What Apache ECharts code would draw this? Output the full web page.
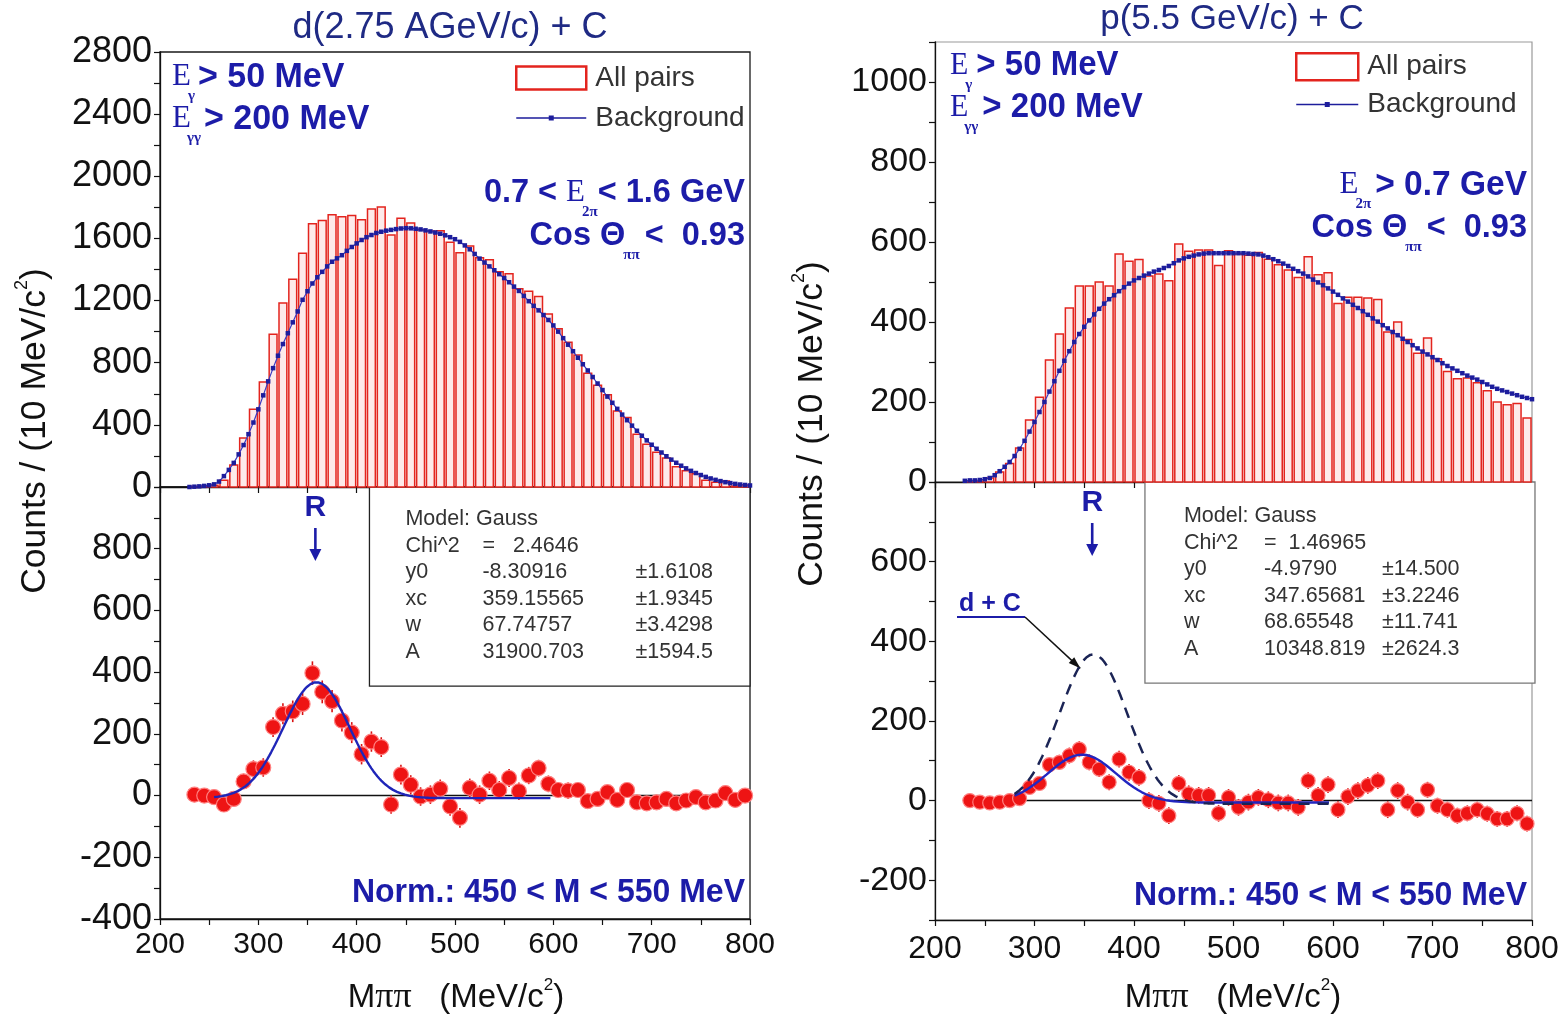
<!DOCTYPE html>
<html>
<head>
<meta charset="utf-8">
<title>M(pi pi) spectra: d + C and p + C</title>
<script src="https://cdn.jsdelivr.net/npm/echarts@6.0.0/dist/echarts.min.js"></script>
<style>
  html, body { margin: 0; padding: 0; background: #ffffff; }
  #chart { width: 1562px; height: 1017px; }
</style>
</head>
<body>
<div id="chart"></div>
<script>
// ---------------- data ----------------
// 10 MeV/c^2 bin centres shared by both histograms and both difference spectra
const massBins = [235, 245, 255, 265, 275, 285, 295, 305, 315, 325,
                  335, 345, 355, 365, 375, 385, 395, 405, 415, 425,
                  435, 445, 455, 465, 475, 485, 495, 505, 515, 525,
                  535, 545, 555, 565, 575, 585, 595, 605, 615, 625,
                  635, 645, 655, 665, 675, 685, 695, 705, 715, 725,
                  735, 745, 755, 765, 775, 785, 795];
const binWidth = 10;

// background (mixed-event) curve sampling points
const bgMass = [230, 235, 240, 245, 250, 255, 260, 265, 270, 275,
                280, 285, 290, 295, 300, 305, 310, 315, 320, 325,
                330, 335, 340, 345, 350, 355, 360, 365, 370, 375,
                380, 385, 390, 395, 400, 405, 410, 415, 420, 425,
                430, 435, 440, 445, 450, 455, 460, 465, 470, 475,
                480, 485, 490, 495, 500, 505, 510, 515, 520, 525,
                530, 535, 540, 545, 550, 555, 560, 565, 570, 575,
                580, 585, 590, 595, 600, 605, 610, 615, 620, 625,
                630, 635, 640, 645, 650, 655, 660, 665, 670, 675,
                680, 685, 690, 695, 700, 705, 710, 715, 720, 725,
                730, 735, 740, 745, 750, 755, 760, 765, 770, 775,
                780, 785, 790, 795, 800];

// d(2.75 AGeV/c) + C
const dcAllPairs = [4, 6, 12, 43, 142, 316, 500, 676, 984, 1185,
                    1337, 1504, 1695, 1715, 1753, 1740, 1747, 1720, 1790, 1803,
                    1622, 1730, 1700, 1655, 1648, 1650, 1575, 1508, 1552, 1475,
                    1462, 1385, 1372, 1276, 1260, 1226, 1113, 1018, 932, 850,
                    732, 655, 593, 489, 448, 340, 275, 224, 187, 131,
                    104, 85, 43, 30, 39, 6, 13];
const dcBackground = [0, 2, 4, 7, 11, 17, 35, 70, 110, 155,
                      210, 270, 340, 415, 500, 590, 680, 765, 845, 920,
                      990, 1060, 1130, 1205, 1260, 1310, 1350, 1385, 1420, 1450,
                      1472, 1492, 1520, 1545, 1568, 1590, 1608, 1622, 1635, 1643,
                      1650, 1655, 1660, 1664, 1666, 1665, 1662, 1658, 1652, 1645,
                      1638, 1630, 1620, 1608, 1595, 1578, 1555, 1530, 1500, 1470,
                      1445, 1420, 1395, 1370, 1345, 1318, 1290, 1262, 1230, 1196,
                      1166, 1137, 1107, 1075, 1040, 1000, 958, 916, 874, 832,
                      790, 750, 708, 666, 624, 582, 542, 503, 466, 430,
                      395, 362, 330, 300, 272, 246, 222, 198, 176, 156,
                      137, 120, 104, 90, 77, 65, 55, 46, 38, 31,
                      25, 20, 16, 13, 10];
const dcDiff = [3, 0, -5, -29, -11, 46, 86, 91, 222, 265,
                273, 297, 397, 336, 306, 243, 204, 134, 175, 157,
                -29, 68, 35, -3, 3, 22, -35, -72, 25, 3,
                48, 18, 57, 14, 65, 89, 38, 18, 16, 18,
                -18, -11, 11, -14, 18, -22, -25, -22, -11, -25,
                -16, -5, -22, -16, 8, -14, 0];
const dcDiffErr = [20, 20, 20, 22, 22, 25, 28, 30, 32, 34,
                   35, 36, 38, 37, 36, 35, 34, 33, 33, 32,
                   30, 32, 31, 30, 30, 30, 30, 32, 30, 30,
                   30, 29, 29, 28, 28, 27, 27, 26, 26, 25,
                   25, 24, 24, 23, 23, 22, 22, 21, 21, 20,
                   20, 19, 19, 18, 18, 17, 17];

// p(5.5 GeV/c) + C
const pcAllPairs = [0, 2, 10, 25, 46, 85, 155, 212, 305, 370,
                    435, 490, 490, 500, 490, 570, 552, 556, 515, 520,
                    503, 595, 577, 580, 580, 541, 578, 570, 567, 574,
                    557, 543, 530, 511, 563, 518, 523, 446, 462, 462,
                    460, 456, 375, 400, 356, 322, 360, 308, 276, 258,
                    260, 248, 228, 200, 193, 196, 160];
const pcBackground = [3, 4, 4, 5, 7, 10, 17, 27, 38, 50,
                      65, 83, 103, 126, 150, 175, 200, 226, 252, 278,
                      303, 327, 350, 370, 388, 404, 419, 433, 446, 457,
                      467, 477, 487, 496, 504, 510, 516, 521, 526, 530,
                      535, 540, 547, 554, 559, 563, 566, 569, 571, 572,
                      572, 572, 572, 572, 572, 572, 572, 571, 570, 569,
                      566, 562, 557, 552, 546, 540, 533, 527, 521, 514,
                      506, 499, 492, 484, 476, 468, 459, 451, 443, 435,
                      427, 418, 409, 401, 392, 384, 375, 367, 358, 350,
                      342, 334, 326, 319, 312, 305, 297, 290, 284, 278,
                      272, 266, 261, 256, 250, 244, 238, 233, 229, 225,
                      221, 217, 213, 210, 207];
const pcDiff = [0, -4, -6, -4, 0, 5, 33, 43, 90, 96,
                113, 129, 96, 79, 46, 104, 71, 58, 0, -7,
                -38, 43, 17, 13, 13, -32, 8, -17, -4, 8,
                2, -6, -6, -17, 50, 13, 40, -23, 10, 25,
                38, 50, -23, 25, -4, -23, 27, -13, -23, -38,
                -32, -23, -33, -46, -46, -32, -58];
const pcDiffErr = [12, 12, 12, 13, 14, 15, 16, 17, 18, 19,
                   20, 20, 20, 20, 20, 21, 21, 21, 21, 21,
                   21, 21, 21, 21, 21, 21, 21, 21, 21, 21,
                   21, 21, 21, 21, 21, 21, 21, 21, 21, 21,
                   21, 21, 21, 21, 21, 20, 20, 20, 20, 20,
                   20, 20, 20, 20, 20, 20, 20];

// Gauss fit results (Origin "Gauss" model) as printed in the fit boxes
const dcFit = { y0: -8.30916, xc: 359.15565, w: 67.74757, A: 31900.703 };
const pcFit = { y0: -4.9790, xc: 347.65681, w: 68.65548, A: 10348.819 };
const dcFitRange = [255, 598];
const pcFitRange = [280, 596];
const zeroLineL = [232, 800];
const zeroLineR = [234, 800];
const resonanceMass = 358;

const dcFitRows = [
  ['Model: Gauss', '', ''],
  ['Chi^2', '=   2.4646', ''],
  ['y0', '-8.30916', '\u00b11.6108'],
  ['xc', '359.15565', '\u00b11.9345'],
  ['w', '67.74757', '\u00b13.4298'],
  ['A', '31900.703', '\u00b11594.5']
];
const pcFitRows = [
  ['Model: Gauss', '', ''],
  ['Chi^2', '=  1.46965', ''],
  ['y0', '-4.9790', '\u00b114.500'],
  ['xc', '347.65681', '\u00b13.2246'],
  ['w', '68.65548', '\u00b111.741'],
  ['A', '10348.819', '\u00b12624.3']
];

// ---------------- styling ----------------
const SANS = "'Liberation Sans', Arial, sans-serif";
const SERIF = "'Liberation Serif', 'Times New Roman', serif";
const BLUE = '#1c1ca8';
const TITLE_BLUE = '#1f2a84';
const HIST_RED = '#e3241e';
const POINT_RED = '#ee1414';
const BG_BLUE = '#1d1d9c';

function pairs(xs, ys) { return xs.map((x, i) => [x, ys[i]]); }
function triples(xs, ys, es) { return xs.map((x, i) => [x, ys[i], es[i]]); }

function gaussModel(p, range, step) {
  const out = [];
  const amp = p.A / (p.w * Math.sqrt(Math.PI / 2));
  for (let x = range[0]; x <= range[1]; x += step) {
    out.push([x, p.y0 + amp * Math.exp(-2 * Math.pow((x - p.xc) / p.w, 2))]);
  }
  return out;
}

function histRender(params, api) {
  const x = api.value(0), y = api.value(1);
  const top = api.coord([x - binWidth / 2, y]);
  const base = api.coord([x + binWidth / 2, 0]);
  return {
    type: 'rect',
    shape: { x: top[0] + 1, y: top[1], width: base[0] - top[0] - 2, height: base[1] - top[1] },
    style: { fill: '#fdeaea', stroke: HIST_RED, lineWidth: 1.5 }
  };
}

function pointRender(radius) {
  return function (params, api) {
    const x = api.value(0), y = api.value(1), e = api.value(2);
    const c = api.coord([x, y]);
    const lo = api.coord([x, y - e]);
    const hi = api.coord([x, y + e]);
    return {
      type: 'group',
      children: [
        { type: 'line', shape: { x1: c[0], y1: lo[1], x2: c[0], y2: hi[1] },
          style: { stroke: '#d81010', lineWidth: 1.6 } },
        { type: 'circle', shape: { cx: c[0], cy: c[1], r: radius },
          style: { fill: POINT_RED, stroke: '#ff8080', lineWidth: 1.2 } }
      ]
    };
  };
}

function xAxisCfg(gi, showLabels, fontSize, margin) {
  return {
    type: 'value', gridIndex: gi, min: 200, max: 800, interval: 50,
    axisLine: { onZero: false, lineStyle: { color: '#111', width: 1.3 } },
    axisTick: { show: true, length: 6, lineStyle: { color: '#111', width: 1.2 } },
    axisLabel: { show: showLabels, fontSize: fontSize, color: '#111', fontFamily: SANS, margin: margin,
                 formatter: v => (v % 100 === 0 ? String(v) : '') },
    splitLine: { show: false }
  };
}

function yAxisCfg(gi, min, max, step, labelStep, labelMax, fontSize) {
  return {
    type: 'value', gridIndex: gi, min: min, max: max, interval: step,
    axisLine: { onZero: false, lineStyle: { color: '#111', width: 1.3 } },
    axisTick: { show: true, length: 6, lineStyle: { color: '#111', width: 1.2 } },
    axisLabel: { fontSize: fontSize, color: '#111', fontFamily: SANS, margin: 8,
                 formatter: v => ((v % labelStep === 0 && v <= labelMax) ? String(v) : '') },
    splitLine: { show: false }
  };
}

function lineIconPath(w, h) {
  const m = h / 2;
  return 'path://M0,0L0.01,0L0.01,0.01Z' +
    'M0,' + h + 'L0.01,' + h + 'L0.01,' + (h - 0.01) + 'Z' +
    'M0,' + (m - 0.7) + 'L' + w + ',' + (m - 0.7) + 'L' + w + ',' + (m + 0.7) + 'L0,' + (m + 0.7) + 'Z' +
    'M' + (w / 2 - 2.5) + ',' + (m - 2.5) + 'L' + (w / 2 + 2.5) + ',' + (m - 2.5) + 'L' +
    (w / 2 + 2.5) + ',' + (m + 2.5) + 'L' + (w / 2 - 2.5) + ',' + (m + 2.5) + 'Z';
}

function legendCfg(left, top, iw, ih, gap) {
  return {
    orient: 'vertical', left: left, top: top, itemWidth: iw, itemHeight: ih, itemGap: gap,
    padding: 0, selectedMode: false,
    textStyle: { fontSize: 28, color: '#333', fontFamily: SANS, padding: [0, 0, 0, 4] },
    data: [
      { name: 'All pairs', icon: 'rect',
        itemStyle: { color: '#ffffff', borderColor: HIST_RED, borderWidth: 2.5 } },
      { name: 'Background', icon: lineIconPath(iw, ih),
        itemStyle: { color: BG_BLUE, borderWidth: 0 } }
    ]
  };
}

const option = {
  animation: false,
  backgroundColor: '#ffffff',
  grid: [
    { left: 160, top: 52, width: 590, height: 435, show: true, borderColor: '#1a1a1a', borderWidth: 1.3 },
    { left: 160, top: 487, width: 590, height: 432, show: true, borderColor: '#1a1a1a', borderWidth: 1.3 },
    { left: 935, top: 42, width: 597, height: 440, show: true, borderColor: '#9a9a9a', borderWidth: 1.2 },
    { left: 935, top: 482, width: 597, height: 438, show: true, borderColor: '#9a9a9a', borderWidth: 1.2 }
  ],
  xAxis: [
    xAxisCfg(0, false, 30, 10),
    xAxisCfg(1, true, 30, 11),
    xAxisCfg(2, false, 32, 10),
    xAxisCfg(3, true, 32, 13)
  ],
  yAxis: [
    yAxisCfg(0, 0, 2800, 200, 400, 2800, 36),
    yAxisCfg(1, -400, 1000, 100, 200, 800, 36),
    yAxisCfg(2, 0, 1100, 100, 200, 1000, 34),
    yAxisCfg(3, -300, 800, 100, 200, 600, 34)
  ],
  legend: [
    legendCfg(515, 64, 70, 23, 12),
    legendCfg(1295, 52, 62, 27, 9)
  ],
  series: [
    // d + C: all pairs and background
    { name: 'All pairs', type: 'custom', xAxisIndex: 0, yAxisIndex: 0, z: 2,
      encode: { x: 0, y: 1 }, data: pairs(massBins, dcAllPairs), renderItem: histRender },
    { name: 'Background', type: 'line', xAxisIndex: 0, yAxisIndex: 0, z: 3,
      data: pairs(bgMass, dcBackground), symbol: 'rect', symbolSize: 4.5, showSymbol: true,
      lineStyle: { color: '#3a3ac4', width: 1.2 }, itemStyle: { color: BG_BLUE } },
    // d + C: difference spectrum with Gauss fit
    { name: 'zero d', type: 'line', xAxisIndex: 1, yAxisIndex: 1, z: 2, showSymbol: false,
      data: [[zeroLineL[0], 0], [zeroLineL[1], 0]], lineStyle: { color: '#111', width: 1.5 } },
    { name: 'd + C difference', type: 'custom', xAxisIndex: 1, yAxisIndex: 1, z: 3,
      encode: { x: 0, y: 1 }, data: triples(massBins, dcDiff, dcDiffErr), renderItem: pointRender(7.5) },
    { name: 'd + C fit', type: 'line', xAxisIndex: 1, yAxisIndex: 1, z: 4, showSymbol: false,
      data: gaussModel(dcFit, dcFitRange, 2), lineStyle: { color: '#1f25b8', width: 2.4 } },
    // p + C: all pairs and background
    { name: 'All pairs', type: 'custom', xAxisIndex: 2, yAxisIndex: 2, z: 2,
      encode: { x: 0, y: 1 }, data: pairs(massBins, pcAllPairs), renderItem: histRender },
    { name: 'Background', type: 'line', xAxisIndex: 2, yAxisIndex: 2, z: 3,
      data: pairs(bgMass, pcBackground), symbol: 'rect', symbolSize: 4.5, showSymbol: true,
      lineStyle: { color: '#3a3ac4', width: 1.2 }, itemStyle: { color: BG_BLUE } },
    // p + C: difference spectrum, its fit and the d + C fit for comparison
    { name: 'zero p', type: 'line', xAxisIndex: 3, yAxisIndex: 3, z: 2, showSymbol: false,
      data: [[zeroLineR[0], 0], [zeroLineR[1], 0]], lineStyle: { color: '#111', width: 1.5 } },
    { name: 'p + C difference', type: 'custom', xAxisIndex: 3, yAxisIndex: 3, z: 3,
      encode: { x: 0, y: 1 }, data: triples(massBins, pcDiff, pcDiffErr), renderItem: pointRender(7) },
    { name: 'p + C fit', type: 'line', xAxisIndex: 3, yAxisIndex: 3, z: 4, showSymbol: false,
      data: gaussModel(pcFit, pcFitRange, 2), lineStyle: { color: '#2226c0', width: 2.4 } },
    { name: 'd + C fit (scaled)', type: 'line', xAxisIndex: 3, yAxisIndex: 3, z: 4, showSymbol: false,
      data: gaussModel(dcFit, pcFitRange, 2), lineStyle: { color: '#1b2455', width: 2.5, type: [11, 8] } }
  ]
};

const chart = echarts.init(document.getElementById('chart'), null, { renderer: 'canvas' });
chart.setOption(option);

// ---------------- annotations ----------------
const measureCtx = document.createElement('canvas').getContext('2d');
function segWidth(s) {
  measureCtx.font = (s.weight || 'normal') + ' ' + s.size + 'px ' + s.family;
  return measureCtx.measureText(s.t).width;
}
function richLine(x, y, segs, align, extra) {
  const widths = segs.map(s => segWidth(s) + (s.adv || 0));
  const total = widths.reduce((a, b) => a + b, 0);
  let cx = align === 'right' ? -total : (align === 'center' ? -total / 2 : 0);
  const children = segs.map((s, i) => {
    const el = {
      type: 'text', x: cx, y: s.dy || 0,
      style: { text: s.t, fontSize: s.size, fontFamily: s.family, fontWeight: s.weight || 'normal',
               fill: s.fill || BLUE, align: 'left', verticalAlign: 'middle' }
    };
    cx += widths[i];
    return el;
  });
  return Object.assign({ type: 'group', x: x, y: y, children: children }, extra || {});
}
function txt(x, y, text, style) {
  return { type: 'text', x: x, y: y,
           style: Object.assign({ text: text, fill: '#111', fontFamily: SANS, fontSize: 20,
                                  align: 'left', verticalAlign: 'middle' }, style) };
}

const B = (t, size, adv) => ({ t: t, size: size, family: SANS, weight: 'bold', adv: adv || 0 });
const E = (size, adv) => ({ t: 'E', size: size, family: SERIF, adv: adv || 0 });
const SUB = (t, adv) => ({ t: t, size: 15, family: SERIF, weight: 'bold', dy: 18, adv: adv || 0 });
const TALL = { scaleY: 1.04 };

function axisTitleSegs() {
  return [
    { t: 'Counts / (10 MeV/c', size: 35.5, family: SANS, fill: '#111' },
    { t: '2', size: 18, family: SANS, fill: '#111', dy: -13 },
    { t: ')', size: 35.5, family: SANS, fill: '#111' }
  ];
}
function massTitleSegs() {
  return [
    { t: 'M', size: 33, family: SANS, fill: '#111' },
    { t: '\u03c0\u03c0', size: 36, family: SERIF, fill: '#111' },
    { t: '   (MeV/c', size: 33, family: SANS, fill: '#111' },
    { t: '2', size: 17, family: SANS, fill: '#111', dy: -13 },
    { t: ')', size: 33, family: SANS, fill: '#111' }
  ];
}

function fitBox(gridIndex, corner1, corner2, rows, cols, lineGap, firstLine, stroke) {
  const p1 = chart.convertToPixel({ gridIndex: gridIndex }, corner1);
  const p2 = chart.convertToPixel({ gridIndex: gridIndex }, corner2);
  const els = [{
    type: 'rect', shape: { x: p1[0], y: p1[1], width: p2[0] - p1[0], height: p2[1] - p1[1] },
    style: { fill: '#ffffff', stroke: stroke, lineWidth: 1.3 }, z: 1
  }];
  rows.forEach((r, i) => {
    const y = p1[1] + firstLine + i * lineGap;
    r.forEach((cell, j) => {
      if (cell) els.push(Object.assign(txt(p1[0] + cols[j], y, cell, { fontSize: 21.5, fill: '#333' }), { z: 2 }));
    });
  });
  return els;
}

function arrowDown(x, yTop, yTip) {
  return [
    { type: 'line', shape: { x1: x, y1: yTop, x2: x, y2: yTip - 10 }, style: { stroke: BLUE, lineWidth: 2.6 } },
    { type: 'polygon', shape: { points: [[x - 6, yTip - 12], [x + 6, yTip - 12], [x, yTip]] }, style: { fill: BLUE } }
  ];
}

function buildGraphics() {
  const els = [];
  // panel titles
  els.push(txt(450, 28, 'd(2.75 AGeV/c) + C', { fontSize: 36, fill: TITLE_BLUE, align: 'center' }));
  els.push(txt(1232, 19, 'p(5.5 GeV/c) + C', { fontSize: 35, fill: TITLE_BLUE, align: 'center' }));

  // vertical axis titles
  els.push(richLine(35, 431, axisTitleSegs(), 'center', { rotation: Math.PI / 2 }));
  els.push(richLine(812, 424, axisTitleSegs(), 'center', { rotation: Math.PI / 2 }));

  // horizontal axis titles
  els.push(richLine(456, 998, massTitleSegs(), 'center'));
  els.push(richLine(1233, 998, massTitleSegs(), 'center'));

  // selection cuts, d + C
  els.push(richLine(172, 77, [E(31, -3), SUB('\u03b3', 3), B('> 50 MeV', 34)], 'left', TALL));
  els.push(richLine(172, 119, [E(31, -4), SUB('\u03b3\u03b3', 3), B('> 200 MeV', 34)], 'left', TALL));
  els.push(richLine(745, 193, [B('0.7 < ', 32.5), E(31, -3), SUB('2\u03c0'), B('< 1.6 GeV', 32.5)], 'right', TALL));
  els.push(richLine(745, 236, [B('Cos ', 32.5), B('\u0398', 32.5, -2), SUB('\u03c0\u03c0', 5), B('<  0.93', 32.5)], 'right', TALL));

  // selection cuts, p + C
  els.push(richLine(950, 66, [E(30, -3), SUB('\u03b3', 4), B('> 50 MeV', 33)], 'left', TALL));
  els.push(richLine(950, 108, [E(30, -4), SUB('\u03b3\u03b3', 4), B('> 200 MeV', 33)], 'left', TALL));
  els.push(richLine(1527, 185, [E(31, -3), SUB('2\u03c0', 4), B('> 0.7 GeV', 33.5)], 'right', TALL));
  els.push(richLine(1527, 228, [B('Cos ', 32.5), B('\u0398', 32.5, -2), SUB('\u03c0\u03c0', 5), B('<  0.93', 32.5)], 'right', TALL));

  // normalisation window
  els.push(richLine(745, 893, [B('Norm.: 450 < M < 550 MeV', 32)], 'right', TALL));
  els.push(richLine(1527, 896, [B('Norm.: 450 < M < 550 MeV', 32)], 'right', TALL));

  // resonance marker "R"
  const rxL = chart.convertToPixel({ gridIndex: 1 }, [resonanceMass, 0])[0];
  const rxR = chart.convertToPixel({ gridIndex: 3 }, [resonanceMass, 0])[0];
  els.push(txt(rxL, 508, 'R', { fontSize: 30, fontWeight: 'bold', fill: BLUE, align: 'center' }));
  els.push(...arrowDown(rxL, 528, 561));
  els.push(txt(rxR, 503, 'R', { fontSize: 30, fontWeight: 'bold', fill: BLUE, align: 'center' }));
  els.push(...arrowDown(rxR, 523, 556));

  // fit result boxes
  els.push(...fitBox(1, [413, 1000], [800, 355], dcFitRows, [36, 113, 266], 26.6, 32, '#222'));
  els.push(...fitBox(3, [411, 800], [803, 295], pcFitRows, [39, 119, 237], 26.6, 34, '#777'));

  // "d + C" label pointing to the dashed curve
  const tip = chart.convertToPixel({ gridIndex: 3 }, [346, 332]);
  els.push(richLine(990, 604, [{ t: 'd + C', size: 25, family: SANS, weight: 'bold' }], 'center', TALL));
  els.push({ type: 'line', shape: { x1: 957, y1: 617, x2: 1025, y2: 617 }, style: { stroke: BLUE, lineWidth: 2.2 } });
  const ang = Math.atan2(tip[1] - 617, tip[0] - 1025);
  const hx = tip[0], hy = tip[1];
  els.push({ type: 'line', shape: { x1: 1025, y1: 617, x2: hx, y2: hy }, style: { stroke: '#111', lineWidth: 1.5 } });
  els.push({ type: 'polygon', shape: { points: [
      [hx, hy],
      [hx - 12 * Math.cos(ang) + 4 * Math.sin(ang), hy - 12 * Math.sin(ang) - 4 * Math.cos(ang)],
      [hx - 12 * Math.cos(ang) - 4 * Math.sin(ang), hy - 12 * Math.sin(ang) + 4 * Math.cos(ang)]
    ] }, style: { fill: '#111' } });

  return els;
}

chart.setOption({ graphic: { elements: buildGraphics() } });
</script>
</body>
</html>
